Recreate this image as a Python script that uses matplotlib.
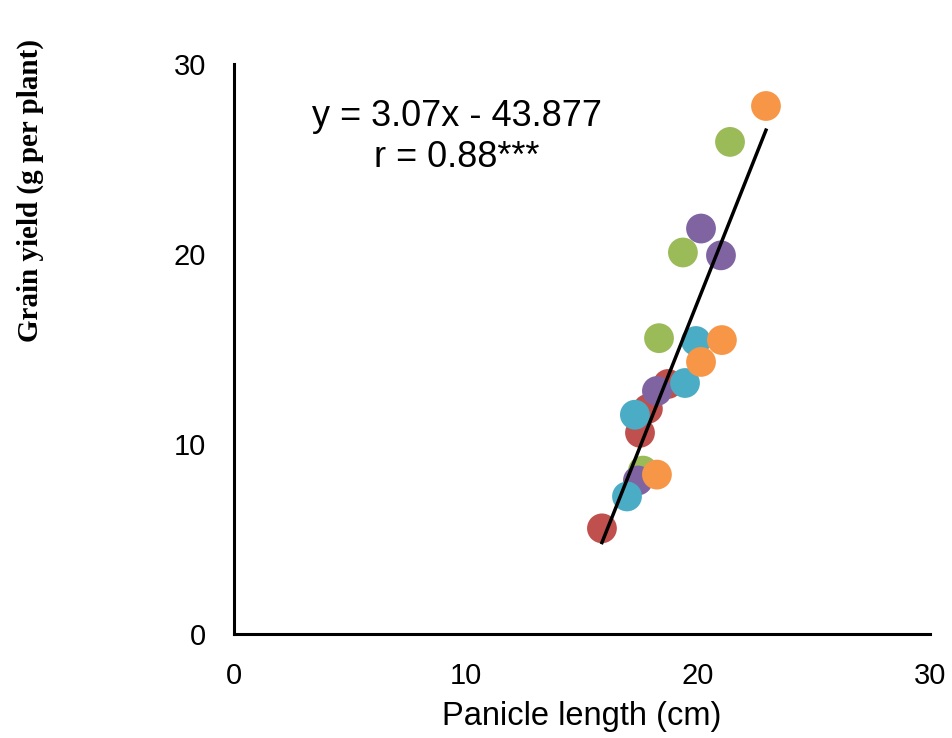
import numpy as np
import matplotlib.pyplot as plt

# panicle length (cm) and grain yield (g per plant), one group per colour
red_x = [15.86, 17.50, 17.84, 18.71]
red_y = [5.56, 10.59, 11.85, 13.16]
green_x = [17.63, 18.32, 19.35, 21.38]
green_y = [8.60, 15.57, 20.08, 25.90]
purple_x = [17.41, 18.23, 20.99, 20.13]
purple_y = [8.08, 12.79, 19.93, 21.34]
cyan_x = [16.94, 17.28, 19.44, 19.91]
cyan_y = [7.24, 11.54, 13.21, 15.42]
orange_x = [18.23, 20.13, 21.03, 22.93]
orange_y = [8.39, 14.32, 15.47, 27.79]

slope = 3.07
intercept = -43.877

plt.rcParams['font.family'] = ['Liberation Sans', 'DejaVu Sans']

fig = plt.figure(figsize=(9.52, 7.38), dpi=100)
ax = fig.add_axes([234 / 952, 104 / 738, 696 / 952, 570 / 738])

groups = [
    (red_x, red_y, '#C0504D'),
    (green_x, green_y, '#9BBB59'),
    (purple_x, purple_y, '#8064A2'),
    (cyan_x, cyan_y, '#4BACC6'),
    (orange_x, orange_y, '#F79646'),
]
for gx, gy, c in groups:
    ax.scatter(gx, gy, s=460, color=c, edgecolors='none', zorder=2)

all_x = np.concatenate([g[0] for g in groups])
lx = np.array([all_x.min(), all_x.max()])
ax.plot(lx, slope * lx + intercept, color='black', lw=2.5, zorder=3)

ax.text(9.6, 26.15, 'y = 3.07x - 43.877\nr = 0.88***', ha='center', va='center',
        fontsize=26, linespacing=1.2)

ax.set_xlim(0, 30)
ax.set_ylim(0, 30)
ax.set_xticks([0, 10, 20, 30])
ax.set_yticks([0, 10, 20, 30])
ax.tick_params(length=0, labelsize=21, pad=20)
for side in ['top', 'right']:
    ax.spines[side].set_visible(False)
for side in ['left', 'bottom']:
    ax.spines[side].set_linewidth(2.2)

ax.set_xlabel('Panicle length (cm)', fontsize=23.5, labelpad=8)
fig.text(30 / 952, 1 - 190 / 738, 'Grain yield (g per plant)', rotation=90,
         ha='center', va='center', fontsize=21, fontweight='bold',
         family=['Liberation Serif', 'DejaVu Serif'])

fig.savefig('out.png', dpi=100)
